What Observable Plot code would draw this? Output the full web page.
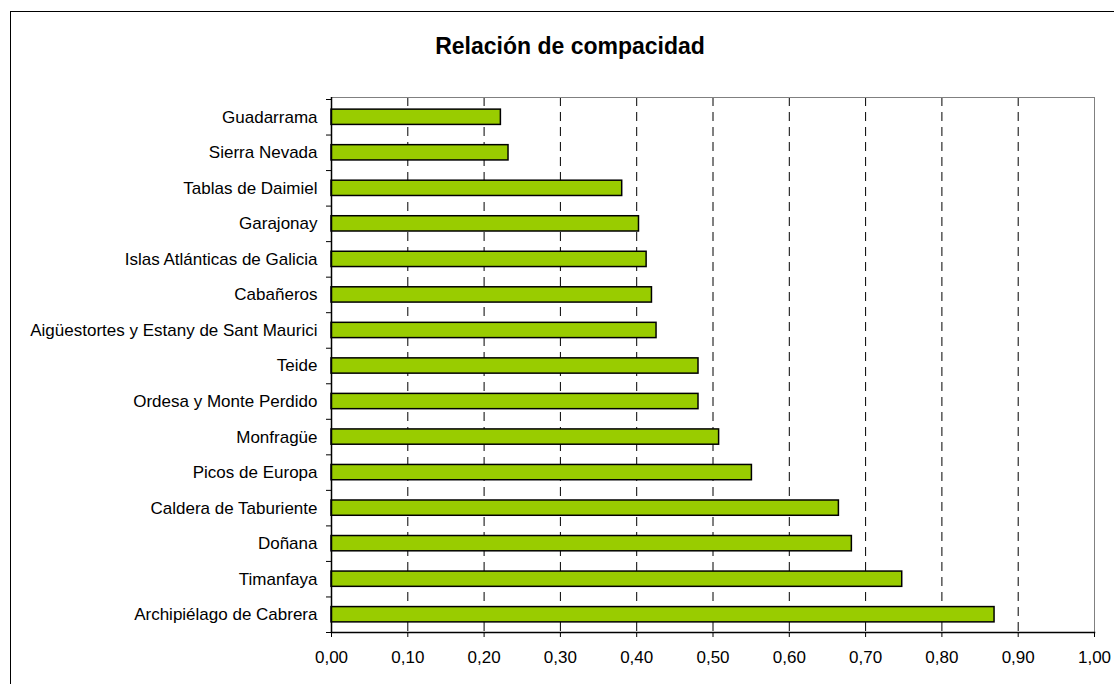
<!DOCTYPE html>
<html>
<head>
<meta charset="utf-8">
<script src="https://cdn.jsdelivr.net/npm/d3@7"></script>
<script src="https://cdn.jsdelivr.net/npm/@observablehq/plot@0.6"></script>
<style>
  html, body { margin: 0; padding: 0; background: #fff; overflow: hidden; }
  #wrap { position: relative; width: 1114px; height: 684px; overflow: hidden; font-family: "Liberation Sans", Arial, sans-serif; }
  #border { position: absolute; left: 10px; top: 11px; width: 1200px; height: 700px; border-left: 1.5px solid #000; border-top: 1.5px solid #000; pointer-events: none; }
  #title { height: 75px; box-sizing: border-box; padding-top: 33px; padding-left: 26px; text-align: center;
           font-size: 23px; font-weight: bold; line-height: 26px; color: #000; }
  #chart svg { display: block; }
  svg text { fill: #000; }
</style>
</head>
<body>
<div id="wrap">
  <div id="border"></div>
  <div id="title">Relación de compacidad</div>
  <div id="chart"></div>
</div>
<script>
const parks = [
  "Guadarrama",
  "Sierra Nevada",
  "Tablas de Daimiel",
  "Garajonay",
  "Islas Atlánticas de Galicia",
  "Cabañeros",
  "Aigüestortes y Estany de Sant Maurici",
  "Teide",
  "Ordesa y Monte Perdido",
  "Monfragüe",
  "Picos de Europa",
  "Caldera de Taburiente",
  "Doñana",
  "Timanfaya",
  "Archipiélago de Cabrera"
];
const compactness = [0.222, 0.232, 0.381, 0.403, 0.413, 0.420, 0.426, 0.481, 0.481, 0.508, 0.551, 0.665, 0.682, 0.748, 0.869];
const xTicks = [0, 0.1, 0.2, 0.3, 0.4, 0.5, 0.6, 0.7, 0.8, 0.9, 1.0];
const gridTicks = [0.1, 0.2, 0.3, 0.4, 0.5, 0.6, 0.7, 0.8, 0.9];

const data = parks.map((name, i) => ({name, value: compactness[i]}));

const height = 609, marginTop = 22, marginBottom = 52;
const yRange = [24, 557];
const step = (yRange[1] - yRange[0]) / parks.length;
const fmt = d => d.toFixed(2).replace(".", ",");

const chart = Plot.plot({
  width: 1114,
  height,
  marginLeft: 331,
  marginRight: 20,
  marginTop,
  marginBottom,
  style: {fontFamily: "'Liberation Sans', Arial, sans-serif", fontSize: "17px", background: "#fff", color: "#000", overflow: "visible"},
  x: {domain: [0, 1]},
  y: {domain: parks, paddingInner: 0.57, paddingOuter: 0.285, range: yRange, round: false},
  marks: [
    Plot.gridX(gridTicks, {stroke: "#000", strokeOpacity: 1, strokeDasharray: "9,6"}),
    Plot.frame({stroke: "#808080"}),
    Plot.barX(data, {x: "value", y: "name", fill: "#99CC00", stroke: "#000", strokeWidth: 1.5}),
    Plot.ruleX([0], {stroke: "#000", strokeWidth: 1.5}),
    Plot.frame({anchor: "bottom", stroke: "#000", strokeWidth: 1.5}),
    Plot.axisX(xTicks, {tickSize: 5, tickPadding: 13, tickFormat: fmt, stroke: "#000", strokeOpacity: 1, fontSize: 17, label: null}),
    Plot.axisY({tickSize: 0, tickPadding: 14, fontSize: 17, label: null}),
    Plot.axisY({ticks: parks, tickSize: 5, tickFormat: () => "", dy: step / 2, strokeOpacity: 1, label: null}),
    Plot.axisY({ticks: [parks[0]], tickSize: 5, tickFormat: () => "", dy: -step / 2, strokeOpacity: 1, label: null})
  ]
});
document.getElementById("chart").appendChild(chart);
</script>
</body>
</html>
